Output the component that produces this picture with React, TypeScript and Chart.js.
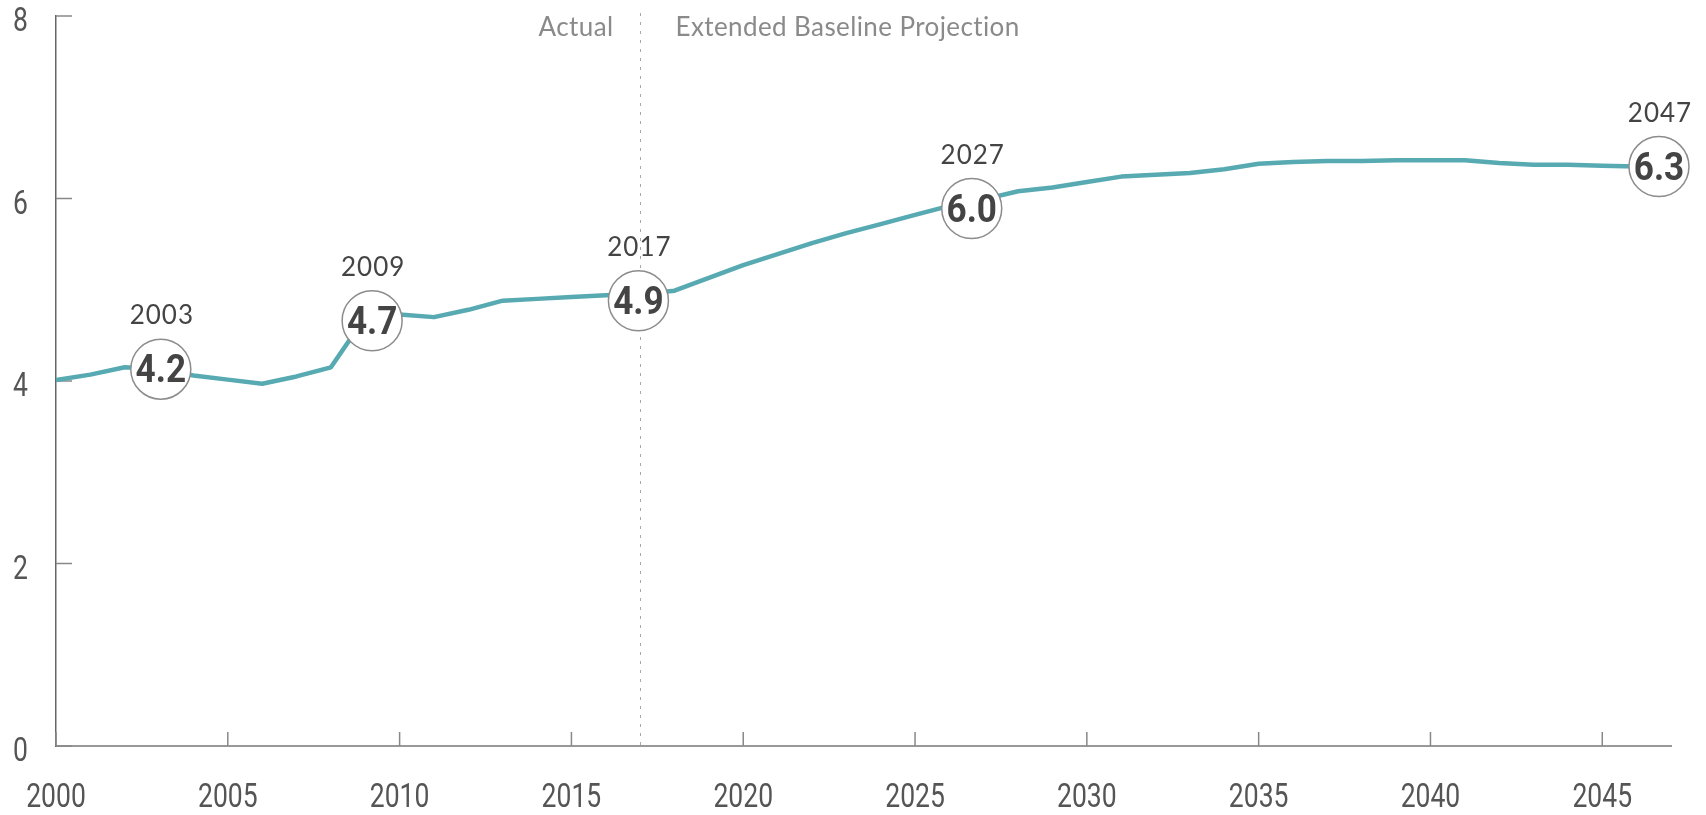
import React, { useEffect, useRef } from "react";
import { Chart, registerables } from "chart.js";

Chart.register(...registerables);

// ---- data ----
const years = [
  2000, 2001, 2002, 2003, 2004, 2005, 2006, 2007, 2008, 2009,
  2010, 2011, 2012, 2013, 2014, 2015, 2016, 2017, 2018, 2019,
  2020, 2021, 2022, 2023, 2024, 2025, 2026, 2027, 2028, 2029,
  2030, 2031, 2032, 2033, 2034, 2035, 2036, 2037, 2038, 2039,
  2040, 2041, 2042, 2043, 2044, 2045, 2046, 2047,
];
const values = [
  4.01, 4.07, 4.15, 4.13, 4.06, 4.015, 3.97, 4.05, 4.15, 4.70,
  4.73, 4.70, 4.78, 4.88, 4.90, 4.92, 4.94, 4.95, 4.99, 5.13,
  5.27, 5.39, 5.51, 5.62, 5.72, 5.82, 5.92, 5.99, 6.08, 6.12,
  6.18, 6.24, 6.26, 6.28, 6.32, 6.38, 6.40, 6.41, 6.41, 6.42,
  6.42, 6.42, 6.39, 6.37, 6.37, 6.36, 6.35, 6.35,
];
const annotX = [2003.05, 2009.2, 2016.95, 2026.65, 2046.65];
const annotY = [4.13, 4.66, 4.88, 5.89, 6.35];
const annotYearLabels = ["2003", "2009", "2017", "2027", "2047"];
const annotValueLabels = ["4.2", "4.7", "4.9", "6.0", "6.3"];
const dividerYear = 2017;
const leftHeader = "Actual";
const rightHeader = "Extended Baseline Projection";
const xMin = 2000;
const xMax = 2047;
const xStep = 5;
const yMin = 0;
const yMax = 8;
const yStep = 2;

const TICKFONT = "Roboto, 'DejaVu Sans Condensed', sans-serif";
const REG = "Lato, 'Open Sans', sans-serif";

function drawNarrow(ctx: any, text: string, x: number, y: number, align: string, sx: number) {
  ctx.save();
  ctx.translate(x, y);
  ctx.scale(sx, 1);
  ctx.textAlign = align;
  ctx.textBaseline = "alphabetic";
  ctx.fillText(text, 0, 0);
  ctx.restore();
}

const overlayPlugin = {
  id: "overlay",
  beforeDatasetsDraw(chart: any) {
    const { ctx, chartArea, scales } = chart;
    const xs = scales.x;
    const ys = scales.y;
    ctx.save();
    // divider dashed line
    const dx = Math.round(xs.getPixelForValue(dividerYear)) + 0.5;
    ctx.strokeStyle = "#a8a8a8";
    ctx.lineWidth = 1;
    ctx.setLineDash([3, 6]);
    ctx.beginPath();
    ctx.moveTo(dx, chartArea.top - 3);
    ctx.lineTo(dx, chartArea.bottom);
    ctx.stroke();
    ctx.setLineDash([]);
    // headers
    ctx.fillStyle = "#8a8a8a";
    ctx.font = `26px ${REG}`;
    ctx.letterSpacing = "0.4px";
    ctx.textBaseline = "middle";
    ctx.textAlign = "right";
    ctx.fillText(leftHeader, dx - 27, chartArea.top + 12);
    ctx.textAlign = "left";
    ctx.fillText(rightHeader, dx + 35, chartArea.top + 12);
    ctx.letterSpacing = "0px";
    // tick marks (inward)
    ctx.strokeStyle = "#888";
    ctx.lineWidth = 1.5;
    ys.ticks.forEach((t: any) => {
      const py = ys.getPixelForValue(t.value);
      ctx.beginPath();
      ctx.moveTo(chartArea.left, py);
      ctx.lineTo(chartArea.left + 16, py);
      ctx.stroke();
    });
    xs.ticks.forEach((t: any) => {
      const px = xs.getPixelForValue(t.value);
      ctx.beginPath();
      ctx.moveTo(px, chartArea.bottom);
      ctx.lineTo(px, chartArea.bottom - 14);
      ctx.stroke();
    });
    ctx.restore();
  },
  afterDatasetsDraw(chart: any) {
    const { ctx, scales, chartArea } = chart;
    const xs = scales.x;
    const ys = scales.y;
    ctx.save();
    // tick labels (condensed look)
    ctx.fillStyle = "#555";
    ctx.font = `400 34px ${TICKFONT}`;
    ys.ticks.forEach((t: any) => {
      const py = ys.getPixelForValue(t.value);
      drawNarrow(ctx, String(t.value), chartArea.left - 28, py + 15, "right", 0.78);
    });
    xs.ticks.forEach((t: any) => {
      const px = xs.getPixelForValue(t.value);
      drawNarrow(ctx, String(t.value), px, chartArea.bottom + 61, "center", 0.78);
    });
    // annotations
    annotX.forEach((xv, i) => {
      const cx = xs.getPixelForValue(xv);
      const cy = ys.getPixelForValue(annotY[i]);
      ctx.beginPath();
      ctx.arc(cx, cy, 30, 0, Math.PI * 2);
      ctx.fillStyle = "#ffffff";
      ctx.fill();
      ctx.strokeStyle = "#8c8c8c";
      ctx.lineWidth = 1.5;
      ctx.stroke();
      ctx.fillStyle = "#444";
      ctx.textAlign = "center";
      ctx.textBaseline = "alphabetic";
      ctx.font = `bold 39px ${TICKFONT}`;
      drawNarrow(ctx, annotValueLabels[i], cx, cy + 13, "center", 0.9);
      ctx.font = `26px ${REG}`;
      ctx.letterSpacing = "1px";
      ctx.fillText(annotYearLabels[i], cx + 1, cy - 45);
      ctx.letterSpacing = "0px";
    });
    ctx.restore();
  },
};

export default function App() {
  const ref = useRef<HTMLCanvasElement | null>(null);
  useEffect(() => {
    if (!ref.current) return;
    const chart = new Chart(ref.current, {
      type: "line",
      data: {
        datasets: [
          {
            data: years.map((y, i) => ({ x: y, y: values[i] })),
            borderColor: "#57aab1",
            borderWidth: 4.5,
            pointRadius: 0,
            tension: 0,
            borderJoinStyle: "round",
            fill: false,
          },
        ],
      },
      options: {
        responsive: false,
        devicePixelRatio: 1,
        animation: false,
        layout: { padding: { top: 16, right: 35, left: 0, bottom: 0 } },
        plugins: { legend: { display: false }, tooltip: { enabled: false } },
        scales: {
          x: {
            type: "linear",
            min: xMin,
            max: xMax,
            afterFit: (s: any) => {
              s.height = 69;
              s.paddingLeft = 0;
              s.paddingRight = 0;
            },
            grid: { display: false, drawTicks: false },
            border: { display: true, color: "#999", width: 2 },
            ticks: {
              display: false,
              stepSize: xStep,
              includeBounds: false,
              autoSkip: false,
              callback: (v: any) => String(v),
            },
          },
          y: {
            min: yMin,
            max: yMax,
            afterFit: (s: any) => {
              s.width = 56;
              s.paddingTop = 0;
              s.paddingBottom = 0;
            },
            grid: { display: false, drawTicks: false },
            border: { display: true, color: "#666", width: 1.5 },
            ticks: {
              display: false,
              stepSize: yStep,
              callback: (v: any) => String(v),
            },
          },
        },
      },
      plugins: [overlayPlugin],
    } as any);
    return () => chart.destroy();
  }, []);
  return (
    <div style={{ position: "absolute", left: 0, top: 0, width: 1706, height: 815, background: "#fff" }}>
      <canvas ref={ref} width={1706} height={815} style={{ display: "block" }} />
    </div>
  );
}
